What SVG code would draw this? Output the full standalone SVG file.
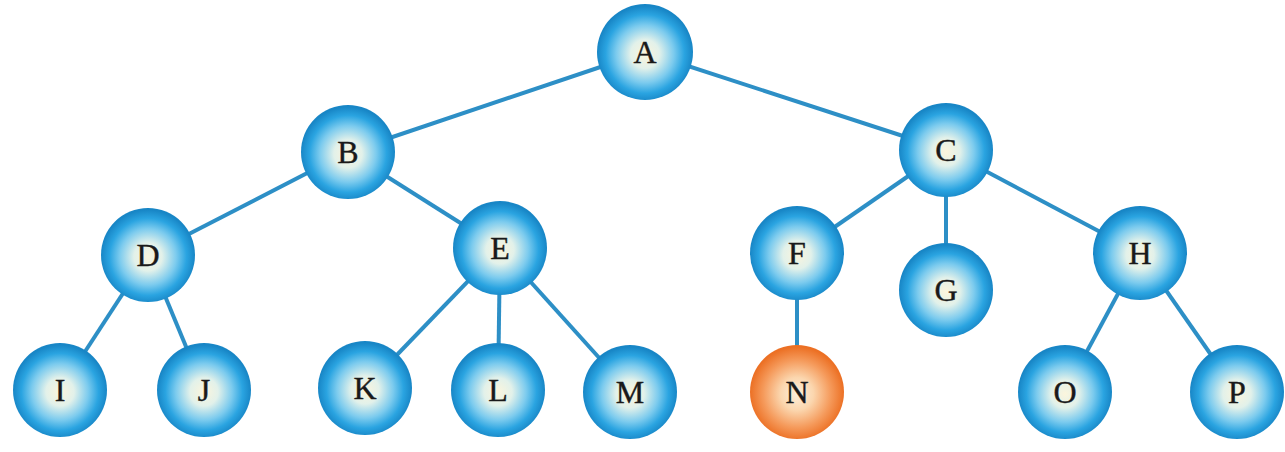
<svg xmlns="http://www.w3.org/2000/svg" width="1285" height="452" viewBox="0 0 1285 452">
<style>
.edge{stroke:#2d8fc6;stroke-width:4;fill:none}
.b{fill:url(#gb)}
.o{fill:url(#go)}
.t{font-family:"Liberation Serif",serif;font-size:32px;fill:#1a1a1a;stroke:#1a1a1a;stroke-width:0.4;text-anchor:middle;dominant-baseline:central}
</style>
<defs>
<radialGradient id="gb" cx="50%" cy="52%" r="50%">
<stop offset="0" stop-color="#fbf5dd"/>
<stop offset="0.3" stop-color="#e2f1ea"/>
<stop offset="0.6" stop-color="#7ccbee"/>
<stop offset="0.82" stop-color="#2aa4e1"/>
<stop offset="1" stop-color="#1886c6"/>
</radialGradient>
<radialGradient id="go" cx="50%" cy="52%" r="50%">
<stop offset="0" stop-color="#fdf0dc"/>
<stop offset="0.35" stop-color="#fbd6ae"/>
<stop offset="0.72" stop-color="#f59a5b"/>
<stop offset="1" stop-color="#ec7024"/>
</radialGradient>
</defs>
<rect width="1285" height="452" fill="#ffffff"/>
<g id="connectors">
<line class="edge" x1="645" y1="52" x2="348" y2="152"/>
<line class="edge" x1="645" y1="52" x2="946" y2="150"/>
<line class="edge" x1="348" y1="152" x2="148" y2="255"/>
<line class="edge" x1="348" y1="152" x2="500" y2="248"/>
<line class="edge" x1="946" y1="150" x2="797" y2="253"/>
<line class="edge" x1="946" y1="150" x2="946" y2="290"/>
<line class="edge" x1="946" y1="150" x2="1140" y2="253"/>
<line class="edge" x1="148" y1="255" x2="60" y2="390"/>
<line class="edge" x1="148" y1="255" x2="204" y2="390"/>
<line class="edge" x1="500" y1="248" x2="365" y2="388"/>
<line class="edge" x1="500" y1="248" x2="498" y2="390"/>
<line class="edge" x1="500" y1="248" x2="630" y2="392"/>
<line class="edge" x1="797" y1="253" x2="797" y2="392"/>
<line class="edge" x1="1140" y1="253" x2="1065" y2="392"/>
<line class="edge" x1="1140" y1="253" x2="1237" y2="392"/>
</g>
<g id="A"><circle class="b" cx="645" cy="52" r="48"/><text class="t" x="645" y="52">A</text></g>
<g id="B"><circle class="b" cx="348" cy="152" r="47"/><text class="t" x="348" y="152">B</text></g>
<g id="C"><circle class="b" cx="946" cy="150" r="47"/><text class="t" x="946" y="150">C</text></g>
<g id="D"><circle class="b" cx="148" cy="255" r="47"/><text class="t" x="148" y="255">D</text></g>
<g id="E"><circle class="b" cx="500" cy="248" r="47"/><text class="t" x="500" y="248">E</text></g>
<g id="F"><circle class="b" cx="797" cy="253" r="47"/><text class="t" x="797" y="253">F</text></g>
<g id="G"><circle class="b" cx="946" cy="290" r="47"/><text class="t" x="946" y="290">G</text></g>
<g id="H"><circle class="b" cx="1140" cy="253" r="47"/><text class="t" x="1140" y="253">H</text></g>
<g id="I"><circle class="b" cx="60" cy="390" r="47"/><text class="t" x="60" y="390">I</text></g>
<g id="J"><circle class="b" cx="204" cy="390" r="47"/><text class="t" x="204" y="390">J</text></g>
<g id="K"><circle class="b" cx="365" cy="388" r="47"/><text class="t" x="365" y="388">K</text></g>
<g id="L"><circle class="b" cx="498" cy="390" r="47"/><text class="t" x="498" y="390">L</text></g>
<g id="M"><circle class="b" cx="630" cy="392" r="47"/><text class="t" x="630" y="392">M</text></g>
<g id="N"><circle class="o" cx="797" cy="392" r="47"/><text class="t" x="797" y="392">N</text></g>
<g id="O"><circle class="b" cx="1065" cy="392" r="47"/><text class="t" x="1065" y="392">O</text></g>
<g id="P"><circle class="b" cx="1237" cy="392" r="47"/><text class="t" x="1237" y="392">P</text></g>
</svg>
